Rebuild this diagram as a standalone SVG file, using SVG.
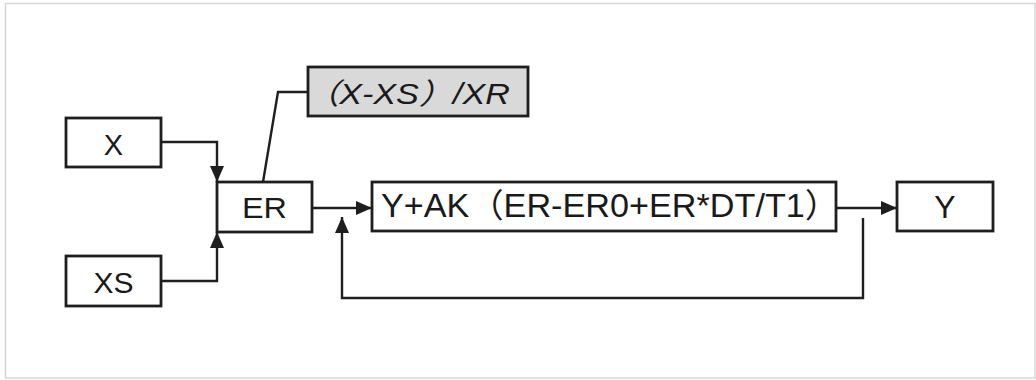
<svg xmlns="http://www.w3.org/2000/svg" width="1036" height="380" viewBox="0 0 1036 380">
  <defs>
    <style>
      .box { fill: #ffffff; stroke: #1e1e1e; stroke-width: 2.8; }
      .box.shade { fill: #d9d9d9; }
      .lbl { font-family: "Liberation Sans", "Noto Sans CJK SC", Arial, sans-serif; fill: #1a1a1a; }
      .wire { fill: none; stroke: #1e1e1e; stroke-width: 2.4; }
    </style>
    <marker id="head" markerUnits="userSpaceOnUse" markerWidth="16" markerHeight="14" refX="16" refY="7" orient="auto">
      <path d="M0,0 L16,7 L0,14 Z" fill="#1e1e1e"/>
    </marker>
  </defs>

  <rect x="0" y="0" width="1036" height="380" fill="#ffffff"/>
  <!-- outer frame -->
  <rect x="5.5" y="3.5" width="1029.5" height="374.5" fill="none" stroke="#d6d6d6" stroke-width="1.5"/>

  <!-- connectors -->
  <g id="connectors">
    <path class="wire" d="M161,142 H217 V182" marker-end="url(#head)"/>
    <path class="wire" d="M161,281 H217 V232" marker-end="url(#head)"/>
    <path class="wire" d="M263,182 L278,92 H308"/>
    <path class="wire" d="M312,208 H372" marker-end="url(#head)"/>
    <path class="wire" d="M836,208 H897" marker-end="url(#head)"/>
    <path class="wire" d="M863,218 V298 H342 V217" marker-end="url(#head)"/>
  </g>

  <g id="node-x">
    <rect class="box" x="66" y="118" width="95" height="49"/>
    <text class="lbl" x="113.5" y="154.5" font-size="29" text-anchor="middle">X</text>
  </g>

  <g id="node-xs">
    <rect class="box" x="66" y="256" width="95" height="50"/>
    <text class="lbl" x="113.5" y="292.5" font-size="30" text-anchor="middle">XS</text>
  </g>

  <g id="node-er">
    <rect class="box" x="217" y="182" width="95" height="50"/>
    <text class="lbl" x="242" y="217.5" font-size="30" textLength="45" lengthAdjust="spacingAndGlyphs">ER</text>
  </g>

  <g id="node-ratio">
    <rect class="box shade" x="308" y="67" width="220" height="49"/>
    <text class="lbl" x="305" y="103.5" font-size="29" font-style="italic" textLength="205" lengthAdjust="spacingAndGlyphs">（X-XS）/XR</text>
  </g>

  <g id="node-update">
    <rect class="box" x="372" y="182" width="464" height="49"/>
    <text class="lbl" x="381" y="217" font-size="33" textLength="458" lengthAdjust="spacingAndGlyphs">Y+AK（ER-ER0+ER*DT/T1）</text>
  </g>

  <g id="node-y">
    <rect class="box" x="897" y="182" width="96" height="49"/>
    <text class="lbl" x="945" y="218" font-size="32" text-anchor="middle">Y</text>
  </g>
</svg>
